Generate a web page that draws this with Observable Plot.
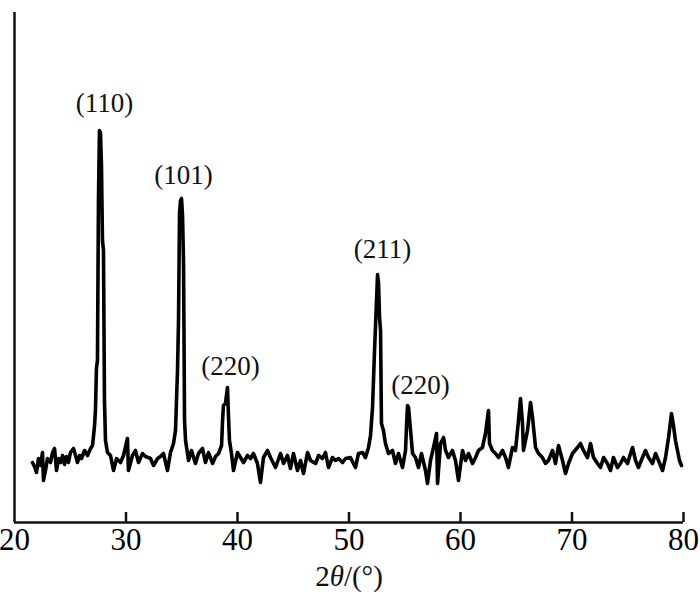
<!DOCTYPE html>
<html>
<head>
<meta charset="utf-8">
<script src="https://cdn.jsdelivr.net/npm/d3@7"></script>
<script src="https://cdn.jsdelivr.net/npm/@observablehq/plot@0.6"></script>
<style>
  html, body { margin: 0; padding: 0; background: #fff; }
  #chart { width: 700px; height: 601px; }
</style>
</head>
<body>
<div id="chart"></div>
<script>
// 2θ (degrees)
const twoTheta = [
  21.61,21.79,21.97,22.15,22.33,22.51,22.60,22.78,22.96,23.23,
  23.41,23.59,23.77,23.95,24.13,24.31,24.48,24.66,24.84,25.02,
  25.29,25.47,25.65,25.83,26.01,26.28,26.55,26.82,27.00,27.18,
  27.26,27.35,27.44,27.53,27.62,27.71,27.80,27.89,27.98,28.07,
  28.16,28.34,28.61,28.88,29.15,29.51,29.78,30.13,30.22,30.58,
  30.85,31.12,31.48,31.75,32.20,32.47,32.83,33.09,33.36,33.72,
  33.99,34.26,34.44,34.53,34.62,34.71,34.80,34.89,34.98,35.07,
  35.16,35.25,35.34,35.61,35.87,36.23,36.50,36.86,37.13,37.40,
  37.76,38.03,38.30,38.57,38.66,38.74,38.92,39.10,39.19,39.28,
  39.46,39.64,40.00,40.27,40.54,40.90,41.17,41.43,41.79,42.06,
  42.33,42.69,42.96,43.41,43.86,44.13,44.48,44.75,45.02,45.38,
  45.65,45.92,46.28,46.55,47.00,47.27,47.62,47.89,48.16,48.52,
  48.79,49.06,49.42,49.69,50.13,50.58,50.85,51.21,51.48,51.75,
  51.93,52.11,52.29,52.47,52.56,52.65,52.74,52.83,52.91,53.09,
  53.27,53.54,53.90,54.17,54.44,54.80,55.07,55.16,55.25,55.34,
  55.52,55.70,55.96,56.23,56.50,56.86,57.04,57.31,57.58,57.85,
  57.94,58.21,58.48,58.66,58.92,59.28,59.55,59.82,60.18,60.45,
  60.72,61.08,61.35,61.61,61.97,62.24,62.51,62.60,62.87,63.14,
  63.41,63.77,64.04,64.30,64.66,64.93,65.20,65.38,65.56,65.65,
  66.01,66.28,66.46,66.73,67.00,67.35,67.62,67.89,68.25,68.52,
  68.79,69.15,69.42,69.69,70.04,70.49,70.76,71.03,71.39,71.66,
  71.93,72.29,72.56,72.83,73.18,73.45,73.72,74.08,74.35,74.62,
  74.98,75.25,75.43,75.70,75.96,76.32,76.59,76.86,77.22,77.49,
  77.76,78.12,78.39,78.66,78.92,79.10,79.28,79.46,79.64,79.82
];
// intensity (a.u.)
const intensity = [
  120,112,100,128,114,140,84,104,128,120,
  140,148,104,128,120,134,116,132,120,140,
  148,134,120,134,128,144,134,148,154,194,
  224,308,324,644,784,780,714,564,544,244,
  164,140,134,104,128,120,134,168,104,134,
  144,120,138,132,128,114,128,132,138,104,
  140,158,184,244,304,404,618,644,648,614,
  520,204,164,124,144,118,138,148,120,140,
  118,132,138,154,204,234,238,270,214,164,
  138,104,140,130,120,134,128,138,118,80,
  130,144,130,110,138,118,134,108,138,104,
  124,98,140,124,118,134,128,140,110,130,
  124,128,120,128,130,110,138,140,130,150,
  174,230,344,444,496,478,410,384,198,184,
  158,138,144,118,138,110,144,194,234,230,
  184,138,130,110,138,104,78,124,150,178,
  78,158,170,144,130,144,124,84,144,124,
  138,118,130,144,150,178,224,158,144,138,
  130,144,130,110,150,144,204,248,198,144,
  184,240,210,150,138,130,118,124,144,118,
  154,124,98,118,138,150,158,144,130,158,
  130,118,110,130,118,104,130,110,118,130,
  118,138,150,124,110,130,144,130,118,138,
  124,104,130,170,218,194,164,144,124,114
];
const xTicks = [20, 30, 40, 50, 60, 70, 80];
const peakNames = ["(110)", "(101)", "(220)", "(211)", "(220)"];
const peakX = [28.07, 35.16, 39.37, 53.0, 56.41];
const peakY = [838, 694, 312, 546, 274];
const xLabel = "2θ/(°)";

const data = twoTheta.map((t, k) => ({t, i: intensity[k]}));
const labels = peakNames.map((n, k) => ({n, x: peakX[k], y: peakY[k]}));

const svg = Plot.plot({
  width: 700,
  height: 601,
  marginLeft: 14,
  marginRight: 17,
  marginTop: 12,
  marginBottom: 79,
  style: {fontFamily: "'Liberation Serif', 'Times New Roman', serif", background: "#fff", color: "#000"},
  x: {domain: [20, 80]},
  y: {domain: [0, 1020], axis: null},
  marks: [
    Plot.axisX({ticks: xTicks, tickSize: 0, tickPadding: 5, fontSize: 31, tickFormat: d => String(d), label: null}),
    Plot.ruleY([0], {stroke: "#111", strokeWidth: 2.5}),
    Plot.ruleX([20], {y1: 0, y2: 1020, stroke: "#111", strokeWidth: 2.5}),
    Plot.ruleX(xTicks.slice(1), {x: d => d, y1: 0, y2: 20, stroke: "#111", strokeWidth: 2.5}),
    Plot.line(data, {x: "t", y: "i", stroke: "#000", strokeWidth: 3.6, strokeLinejoin: "round", strokeLinecap: "round"}),
    Plot.text(labels, {x: "x", y: "y", text: "n", fontSize: 27, fill: "#111"}),
    Plot.text([xLabel], {frameAnchor: "bottom", dy: 63, fontSize: 29, text: d => d, fill: "#111"})
  ]
});

// italic theta in the axis label
svg.querySelectorAll("text").forEach(el => {
  if (el.textContent === xLabel) {
    el.textContent = "";
    const parts = [["2", false], ["θ", true], ["/(°)", false]];
    for (const [s, it] of parts) {
      const ts = document.createElementNS("http://www.w3.org/2000/svg", "tspan");
      ts.textContent = s;
      if (it) ts.setAttribute("font-style", "italic");
      el.appendChild(ts);
    }
  }
});

document.getElementById("chart").appendChild(svg);
</script>
</body>
</html>
